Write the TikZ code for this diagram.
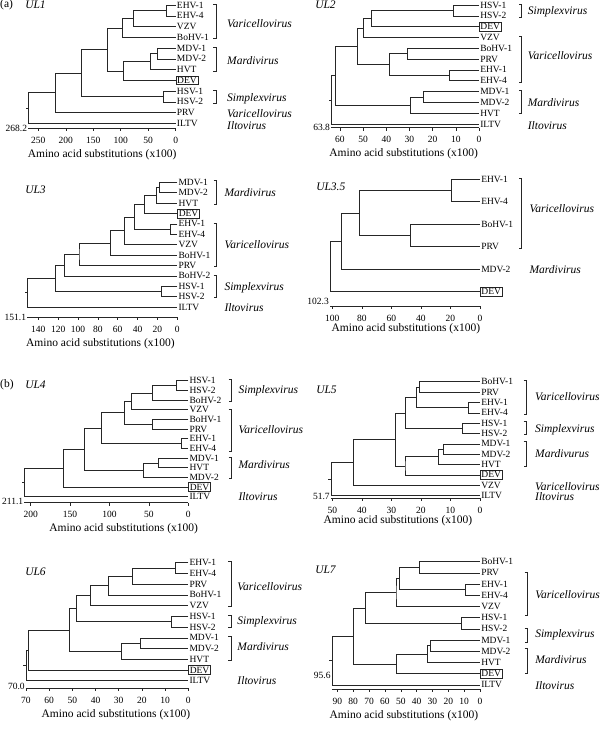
\documentclass[tikz,border=0pt]{standalone}
\usepackage{fontspec}
\setmainfont{Liberation Serif}
\usepackage{tikz}

\tikzset{
  leaf/.style={anchor=west, inner sep=1pt, font=\fontsize{9.5}{10}\selectfont},
  dev/.style={leaf, draw, inner sep=1.2pt},
  genus/.style={anchor=west, inner sep=0pt, font=\fontsize{11.5}{12}\selectfont\itshape},
  tick/.style={anchor=north, inner sep=0pt, yshift=-5.5pt, font=\fontsize{9.5}{10}\selectfont},
  scalelab/.style={anchor=east, inner sep=1pt, font=\fontsize{9.5}{10}\selectfont},
  axtitle/.style={inner sep=0pt, font=\fontsize{11.5}{12}\selectfont},
  head/.style={anchor=west, inner sep=0pt, font=\fontsize{11.5}{12}\selectfont},
}

\begin{document}
\begin{tikzpicture}[x=1pt,y=-1pt,line width=0.5pt,draw=black!85]
\useasboundingbox (0,0) rectangle (603,729);
% panel heads:
\node[head] at (0,5) {(a)};
\node[head] at (25,5) {\itshape UL1};
\node[head] at (315,5) {\itshape UL2};
\node[head] at (25,190) {\itshape UL3};
\node[head] at (316,187) {\itshape UL3.5};
\node[head] at (0,385) {(b)};
\node[head] at (25,385) {\itshape UL4};
\node[head] at (316,390) {\itshape UL5};
\node[head] at (25,572) {\itshape UL6};
\node[head] at (315,570) {\itshape UL7};

% tree UL1:
\begin{scope}[shift={(175.7,5)}, x=-0.5496pt, y=-10.75pt]
\foreach \n/\s [count=\i from 0] in {EHV-1/leaf,EHV-4/leaf,VZV/leaf,BoHV-1/leaf,MDV-1/leaf,MDV-2/leaf,HVT/leaf,DEV/dev,HSV-1/leaf,HSV-2/leaf,PRV/leaf,ILTV/leaf}
  \node[\s] (a\i) at (0,\i) {\n};
\draw (a0.west) -| (16.4,0.5) coordinate (a-A) |- (a1.west);
\draw (a-A) -| (78,1.25) coordinate (a-B) |- (a2.west);
\draw (a-B) -| (98,2.125) coordinate (a-C) |- (a3.west);
\draw (a4.west) -| (33,4.5) coordinate (a-D) |- (a5.west);
\draw (a-D) -| (47,5.25) coordinate (a-E) |- (a6.west);
\draw (a-E) -| (95,6.125) coordinate (a-F) |- (a7.west);
\draw (a-C) -| (124,4.125) coordinate (a-G) |- (a-F);
\draw (a8.west) -| (22,8.5) coordinate (a-H) |- (a9.west);
\draw (a-G) -| (171,6.3125) coordinate (a-I) |- (a-H);
\draw (a-I) -| (219,8.156) coordinate (a-J) |- (a10.west);
\draw (a-J) -| (268.2,9.578) coordinate (a-K) |- (a11.west);
\draw (a-K) -- ++(-2.5pt,0);
% axis:
\draw (268.2,11.47) -- (0,11.47);
\foreach \t in {250,200,...,0} \draw (\t,11.47) -- ++(0,-3pt) node[tick] {\t};
\node[scalelab] at (268.2,11.47) {268.2};
\node[axtitle, yshift=-26pt] at (134,11.47) {Amino acid substitutions (x100)};
% genera:
\draw (-73.3,-0.05) ++(-2.5pt,0) -- ++(2.5pt,0) -- (-73.3,3.1) -- ++(-2.5pt,0);
\draw (-73.3,3.95) ++(-2.5pt,0) -- ++(2.5pt,0) -- (-73.3,6.15) -- ++(-2.5pt,0);
\draw (-73.3,7.9) ++(-2.5pt,0) -- ++(2.5pt,0) -- (-73.3,9.1) -- ++(-2.5pt,0);
\node[genus] at (-93.3,1.7) {Varicellovirus};
\node[genus] at (-93.3,5.2) {Mardivirus};
\node[genus] at (-93.3,8.7) {Simplexvirus};
\node[genus] at (-93.3,10.1) {Varicellovirus};
\node[genus] at (-93.3,11.2) {Iltovirus};
\end{scope}

% tree UL2:
\begin{scope}[shift={(479,5)}, x=-2.317pt, y=-10.82pt]
\foreach \n/\s [count=\i from 0] in {HSV-1/leaf,HSV-2/leaf,DEV/dev,VZV/leaf,BoHV-1/leaf,PRV/leaf,EHV-1/leaf,EHV-4/leaf,MDV-1/leaf,MDV-2/leaf,HVT/leaf,ILTV/leaf}
  \node[\s] (b\i) at (0,\i) {\n};
\draw (b0.west) -| (11.1,0.5) coordinate (b-A) |- (b1.west);
\draw (b-A) -| (46.3,1.25) coordinate (b-B) |- (b2.west);
\draw (b-B) -| (49.9,2.125) coordinate (b-C) |- (b3.west);
\draw (b4.west) -| (30.9,4.5) coordinate (b-D) |- (b5.west);
\draw (b6.west) -| (12.8,6.5) coordinate (b-E) |- (b7.west);
\draw (b-D) -| (38.7,5.5) coordinate (b-F) |- (b-E);
\draw (b-C) -| (52.4,3.8125) coordinate (b-G) |- (b-F);
\draw (b8.west) -| (24,8.5) coordinate (b-H) |- (b9.west);
\draw (b-H) -| (29.8,9.25) coordinate (b-I) |- (b10.west);
\draw (b-G) -| (62,6.53) coordinate (b-J) |- (b-I);
\draw (b-J) -| (63.8,8.77) coordinate (b-K) |- (b11.west);
\draw (b-K) -- ++(-2.5pt,0);
% axis:
\draw (63.8,11.34) -- (0,11.34);
\foreach \t in {60,50,...,0} \draw (\t,11.34) -- ++(0,-3pt) node[tick] {\t};
\node[scalelab] at (63.8,11.34) {63.8};
\node[axtitle, yshift=-26pt] at (32.5,11.34) {Amino acid substitutions (x100)};
% genera:
\draw (-18.4,-0.1) ++(-2.5pt,0) -- ++(2.5pt,0) -- (-18.4,1.15) -- ++(-2.5pt,0);
\draw (-18.4,2.85) ++(-2.5pt,0) -- ++(2.5pt,0) -- (-18.4,7.1) -- ++(-2.5pt,0);
\draw (-18.4,7.85) ++(-2.5pt,0) -- ++(2.5pt,0) -- (-18.4,10.05) -- ++(-2.5pt,0);
\node[genus] at (-21,0.62) {Simplexvirus};
\node[genus] at (-21,4.71) {Varicellovirus};
\node[genus] at (-21,9.03) {Mardivirus};
\node[genus] at (-21,11.18) {Iltovirus};
\end{scope}

% tree UL3:
\begin{scope}[shift={(177.3,182.3)}, x=-0.993pt, y=-10.4pt]
\foreach \n/\s [count=\i from 0] in {MDV-1/leaf,MDV-2/leaf,HVT/leaf,DEV/dev,EHV-1/leaf,EHV-4/leaf,VZV/leaf,BoHV-1/leaf,PRV/leaf,BoHV-2/leaf,HSV-1/leaf,HSV-2/leaf,ILTV/leaf}
  \node[\s] (c\i) at (0,\i) {\n};
\draw (c0.west) -| (18.1,0.5) coordinate (c-A) |- (c1.west);
\draw (c-A) -| (21.5,1.25) coordinate (c-B) |- (c2.west);
\draw (c-B) -| (33.6,2.125) coordinate (c-C) |- (c3.west);
\draw (c4.west) -| (6.7,4.5) coordinate (c-D) |- (c5.west);
\draw (c-C) -| (43.3,3.3125) coordinate (c-E) |- (c-D);
\draw (c-E) -| (53.7,4.656) coordinate (c-F) |- (c6.west);
\draw (c-F) -| (67.8,5.828) coordinate (c-G) |- (c7.west);
\draw (c-G) -| (99,6.914) coordinate (c-H) |- (c8.west);
\draw (c-H) -| (113.8,7.957) coordinate (c-I) |- (c9.west);
\draw (c10.west) -| (16.4,10.5) coordinate (c-J) |- (c11.west);
\draw (c-I) -| (122.5,9.23) coordinate (c-K) |- (c-J);
\draw (c-K) -| (151.1,10.61) coordinate (c-L) |- (c12.west);
\draw (c-L) -- ++(-2.5pt,0);
% axis:
\draw (151.1,12.98) -- (0,12.98);
\foreach \t in {140,120,...,0} \draw (\t,12.98) -- ++(0,-3pt) node[tick] {\t};
\node[scalelab] at (151.1,12.98) {151.1};
\node[axtitle, yshift=-26pt] at (77.4,12.98) {Amino acid substitutions (x100)};
% genera:
\draw (-39,-0.15) ++(-2.5pt,0) -- ++(2.5pt,0) -- (-39,2.1) -- ++(-2.5pt,0);
\draw (-39,3.9) ++(-2.5pt,0) -- ++(2.5pt,0) -- (-39,8.1) -- ++(-2.5pt,0);
\draw (-39,8.9) ++(-2.5pt,0) -- ++(2.5pt,0) -- (-39,11.1) -- ++(-2.5pt,0);
\node[genus] at (-47.3,1) {Mardivirus};
\node[genus] at (-47.3,6.03) {Varicellovirus};
\node[genus] at (-47.3,10.1) {Simplexvirus};
\node[genus] at (-47.3,12.02) {Iltovirus};
\end{scope}

% tree UL3.5:
\begin{scope}[shift={(480,179.2)}, x=-1.477pt, y=-22.5pt]
\foreach \n/\s [count=\i from 0] in {EHV-1/leaf,EHV-4/leaf,BoHV-1/leaf,PRV/leaf,MDV-2/leaf,DEV/dev}
  \node[\s] (d\i) at (0,\i) {\n};
\draw (d0.west) -| (19.2,0.5) coordinate (d-A) |- (d1.west);
\draw (d2.west) -| (46.9,2.5) coordinate (d-B) |- (d3.west);
\draw (d-A) -| (81.7,1.5) coordinate (d-C) |- (d-B);
\draw (d-C) -| (93.7,2.75) coordinate (d-D) |- (d4.west);
\draw (d-D) -| (101.5,3.875) coordinate (d-E) |- (d5.west);
% axis:
\draw (101.5,5.636) -- (0,5.636);
\foreach \t in {100,80,...,0} \draw (\t,5.636) -- ++(0,-3pt) node[tick] {\t};
\node[scalelab, yshift=5pt] at (101.5,5.636) {102.3};
\node[axtitle, yshift=-23pt] at (50.2,5.636) {Amino acid substitutions (x100)};
% genera:
\draw (-28.2,-0.05) ++(-2.5pt,0) -- ++(2.5pt,0) -- (-28.2,3.08) -- ++(-2.5pt,0);
\node[genus] at (-33.4,1.29) {Varicellovirus};
\node[genus] at (-33.4,4) {Mardivirus};
\end{scope}

% tree UL4:
\begin{scope}[shift={(188.3,380.7)}, x=-0.788pt, y=-9.67pt]
\foreach \n/\s [count=\i from 0] in {HSV-1/leaf,HSV-2/leaf,BoHV-2/leaf,VZV/leaf,BoHV-1/leaf,PRV/leaf,EHV-1/leaf,EHV-4/leaf,MDV-1/leaf,HVT/leaf,MDV-2/leaf,DEV/dev,ILTV/leaf}
  \node[\s] (e\i) at (0,\i) {\n};
\draw (e0.west) -| (14.8,0.5) coordinate (e-A) |- (e1.west);
\draw (e-A) -| (45.3,1.25) coordinate (e-B) |- (e2.west);
\draw (e-B) -| (72.8,2.125) coordinate (e-C) |- (e3.west);
\draw (e4.west) -| (45.3,4.5) coordinate (e-D) |- (e5.west);
\draw (e-C) -| (81.2,3.3125) coordinate (e-E) |- (e-D);
\draw (e6.west) -| (9.3,6.5) coordinate (e-F) |- (e7.west);
\draw (e-E) -| (110,4.906) coordinate (e-G) |- (e-F);
\draw (e8.west) -| (38.1,8.5) coordinate (e-H) |- (e9.west);
\draw (e-H) -| (57.1,9.25) coordinate (e-I) |- (e10.west);
\draw (e-G) -| (132,7.08) coordinate (e-J) |- (e-I);
\draw (e-J) -| (158.6,9.04) coordinate (e-K) |- (e11.west);
\draw (e-K) -| (208,10.52) coordinate (e-L) |- (e12.west);
\draw (e-L) -- ++(-2.5pt,0);
% axis:
\draw (208,12.62) -- (0,12.62);
\foreach \t in {200,150,...,0} \draw (\t,12.62) -- ++(0,-3pt) node[tick] {\t};
\node[scalelab, yshift=1.5pt] at (208,12.62) {211.1};
\node[axtitle, yshift=-26pt] at (82,12.62) {Amino acid substitutions (x100)};
% genera:
\draw (-54.2,-0.1) ++(-2.5pt,0) -- ++(2.5pt,0) -- (-54.2,2.15) -- ++(-2.5pt,0);
\draw (-54.2,2.95) ++(-2.5pt,0) -- ++(2.5pt,0) -- (-54.2,7.3) -- ++(-2.5pt,0);
\draw (-54.2,7.9) ++(-2.5pt,0) -- ++(2.5pt,0) -- (-54.2,10.1) -- ++(-2.5pt,0);
\node[genus] at (-63.5,1.03) {Simplexvirus};
\node[genus] at (-63.5,5.1) {Varicellovirus};
\node[genus] at (-63.5,8.72) {Mardivirus};
\node[genus] at (-63.5,12) {Iltovirus};
\end{scope}

% tree UL5:
\begin{scope}[shift={(480,381.7)}, x=-2.953pt, y=-10.35pt]
\foreach \n/\s [count=\i from 0] in {BoHV-1/leaf,PRV/leaf,EHV-1/leaf,EHV-4/leaf,HSV-1/leaf,HSV-2/leaf,MDV-1/leaf,MDV-2/leaf,HVT/leaf,DEV/dev,VZV/leaf,ILTV/leaf}
  \node[\s] (f\i) at (0,\i) {\n};
\draw (f0.west) -| (20.5,0.5) coordinate (f-A) |- (f1.west);
\draw (f2.west) -| (4,2.5) coordinate (f-B) |- (f3.west);
\draw (f-A) -| (21.7,1.5) coordinate (f-C) |- (f-B);
\draw (f4.west) -| (6,4.5) coordinate (f-D) |- (f5.west);
\draw (f-C) -| (25.2,3) coordinate (f-E) |- (f-D);
\draw (f6.west) -| (12.6,6.5) coordinate (f-F) |- (f7.west);
\draw (f-F) -| (14.1,7.25) coordinate (f-G) |- (f8.west);
\draw (f-G) -| (25.4,8.125) coordinate (f-H) |- (f9.west);
\draw (f-E) -| (28.8,5.5625) coordinate (f-I) |- (f-H);
\draw (f-I) -| (42.9,7.78) coordinate (f-J) |- (f10.west);
\draw (f-J) -| (50.5,9.39) coordinate (f-K) |- (f11.west);
\draw (f-K) -- ++(-2.5pt,0);
% axis:
\draw (50.5,11.27) -- (0,11.27);
\foreach \t in {50,40,...,0} \draw (\t,11.27) -- ++(0,-3pt) node[tick] {\t};
\node[scalelab, yshift=1.5pt] at (50.5,11.27) {51.7};
\node[axtitle, yshift=-22pt] at (27.8,11.27) {Amino acid substitutions (x100)};
% genera:
\draw (-15.6,-0.15) ++(-2.5pt,0) -- ++(2.5pt,0) -- (-15.6,3.1) -- ++(-2.5pt,0);
\draw (-15.6,3.86) ++(-2.5pt,0) -- ++(2.5pt,0) -- (-15.6,5.05) -- ++(-2.5pt,0);
\draw (-15.6,5.8) ++(-2.5pt,0) -- ++(2.5pt,0) -- (-15.6,8.15) -- ++(-2.5pt,0);
\node[genus] at (-18.6,1.45) {Varicellovirus};
\node[genus] at (-18.6,4.67) {Simplexvirus};
\node[genus] at (-18.6,6.92) {Mardivurus};
\node[genus] at (-18.6,10.1) {Varicellovirus};
\node[genus] at (-18.6,11.1) {Iltovirus};
\end{scope}

% tree UL6:
\begin{scope}[shift={(188.3,562.7)}, x=-2.319pt, y=-10.73pt]
\foreach \n/\s [count=\i from 0] in {EHV-1/leaf,EHV-4/leaf,PRV/leaf,BoHV-1/leaf,VZV/leaf,HSV-1/leaf,HSV-2/leaf,MDV-1/leaf,MDV-2/leaf,HVT/leaf,DEV/dev,ILTV/leaf}
  \node[\s] (g\i) at (0,\i) {\n};
\draw (g0.west) -| (5.75,0.5) coordinate (g-A) |- (g1.west);
\draw (g-A) -| (24,1.25) coordinate (g-B) |- (g2.west);
\draw (g-B) -| (34.5,2.125) coordinate (g-C) |- (g3.west);
\draw (g-C) -| (42.4,3.0625) coordinate (g-D) |- (g4.west);
\draw (g5.west) -| (7.5,5.5) coordinate (g-E) |- (g6.west);
\draw (g-D) -| (48.2,4.28) coordinate (g-F) |- (g-E);
\draw (g7.west) -| (20.8,7.5) coordinate (g-G) |- (g8.west);
\draw (g-G) -| (29,8.25) coordinate (g-H) |- (g9.west);
\draw (g-F) -| (51.3,6.27) coordinate (g-I) |- (g-H);
\draw (g-I) -| (69,8.13) coordinate (g-J) |- (g10.west);
\draw (g-J) -| (70,9.57) coordinate (g-K) |- (g11.west);
\draw (g-K) -- ++(-2.5pt,0);
% axis:
\draw (70,11.7) -- (0,11.7);
\foreach \t in {70,60,...,0} \draw (\t,11.7) -- ++(0,-3pt) node[tick] {\t};
\node[scalelab, yshift=1.5pt] at (70,11.7) {70.0};
\node[axtitle, yshift=-26pt] at (31.2,11.7) {Amino acid substitutions (x100)};
% genera:
\draw (-18.4,-0.15) ++(-2.5pt,0) -- ++(2.5pt,0) -- (-18.4,4.05) -- ++(-2.5pt,0);
\draw (-18.4,4.87) ++(-2.5pt,0) -- ++(2.5pt,0) -- (-18.4,6) -- ++(-2.5pt,0);
\draw (-18.4,6.85) ++(-2.5pt,0) -- ++(2.5pt,0) -- (-18.4,9.05) -- ++(-2.5pt,0);
\node[genus] at (-21.1,2.24) {Varicellovirus};
\node[genus] at (-21.1,5.5) {Simplexvirus};
\node[genus] at (-21.1,7.83) {Mardivirus};
\node[genus] at (-21.1,11) {Iltovirus};
\end{scope}

% tree UL7:
\begin{scope}[shift={(480,561.7)}, x=-1.585pt, y=-11.2pt]
\foreach \n/\s [count=\i from 0] in {BoHV-1/leaf,PRV/leaf,EHV-1/leaf,EHV-4/leaf,VZV/leaf,HSV-1/leaf,HSV-2/leaf,MDV-1/leaf,MDV-2/leaf,HVT/leaf,DEV/dev,ILTV/leaf}
  \node[\s] (h\i) at (0,\i) {\n};
\draw (h0.west) -| (38.3,0.5) coordinate (h-A) |- (h1.west);
\draw (h2.west) -| (9,2.5) coordinate (h-B) |- (h3.west);
\draw (h-A) -| (50.9,1.5) coordinate (h-C) |- (h-B);
\draw (h-C) -| (53,2.75) coordinate (h-D) |- (h4.west);
\draw (h5.west) -| (12,5.5) coordinate (h-E) |- (h6.west);
\draw (h-D) -| (72.1,4.125) coordinate (h-F) |- (h-E);
\draw (h7.west) -| (31.5,7.5) coordinate (h-G) |- (h8.west);
\draw (h-G) -| (33,8.25) coordinate (h-H) |- (h9.west);
\draw (h-H) -| (52.6,9.125) coordinate (h-I) |- (h10.west);
\draw (h-F) -| (79.9,6.625) coordinate (h-J) |- (h-I);
\draw (h-J) -| (93.5,8.81) coordinate (h-K) |- (h11.west);
\draw (h-K) -- ++(-2.5pt,0);
% axis:
\draw (93.5,11.39) -- (0,11.39);
\foreach \t in {90,80,...,0} \draw (\t,11.39) -- ++(0,-3pt) node[tick] {\t};
\node[scalelab, yshift=14pt] at (93.5,11.39) {95.6};
\node[axtitle, yshift=-26pt] at (48,11.39) {Amino acid substitutions (x100)};
% genera:
\draw (-29.8,0.95) ++(-2.5pt,0) -- ++(2.5pt,0) -- (-29.8,4.8) -- ++(-2.5pt,0);
\draw (-29.8,5.95) ++(-2.5pt,0) -- ++(2.5pt,0) -- (-29.8,7.2) -- ++(-2.5pt,0);
\draw (-29.8,7.75) ++(-2.5pt,0) -- ++(2.5pt,0) -- (-29.8,10) -- ++(-2.5pt,0);
\node[genus] at (-34.7,2.97) {Varicellovirus};
\node[genus] at (-34.7,6.54) {Simplexvirus};
\node[genus] at (-34.7,8.71) {Mardivirus};
\node[genus] at (-34.7,11.1) {Iltovirus};
\end{scope}
\end{tikzpicture}
\end{document}
